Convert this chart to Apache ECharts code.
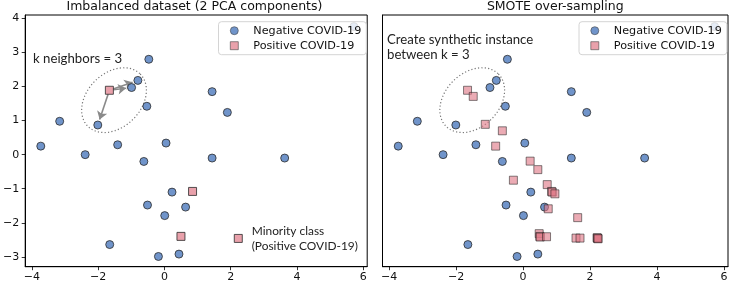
<!DOCTYPE html>
<html><head><meta charset="utf-8">
<script src="https://cdn.jsdelivr.net/npm/echarts@6/dist/echarts.min.js"></script>
<style>html,body{margin:0;padding:0;background:#fff}#c{width:731px;height:283px}</style>
</head><body><div id="c"></div>
<script>
// ---- data ----
const negX = [-3.73, -3.16, -2.01, -0.99, -0.80, -0.47, -0.53, -1.41, 0.05, 1.44, 1.90, -2.39, -0.62, 1.44, 3.63, 0.23, -0.51, 0.64, 0.01, -1.65, -0.18, 0.44, 5.72];
const negY = [0.25, 0.98, 0.87, 1.97, 2.18, 2.80, 1.42, 0.29, 0.34, 1.85, 1.24, 0.00, -0.20, -0.10, -0.10, -1.10, -1.48, -1.54, -1.79, -2.64, -2.99, -2.92, 3.76];
const posX = [-1.66, 0.85, 0.50, 2.23];
const posY = [1.89, -1.08, -2.40, -2.46];
const smoteX = [-1.66, -1.49, -1.13, -0.62, -0.82, 0.21, 0.44, -0.29, 0.72, 0.85, 0.87, 0.95, 0.75, 1.63, 0.48, 0.50, 0.51, 0.70, 1.58, 1.70, 2.23, 2.21, 2.22, 2.24];
const smoteY = [1.89, 1.71, 0.89, 0.70, 0.25, -0.19, -0.44, -0.75, -0.88, -1.08, -1.10, -1.15, -1.59, -1.85, -2.32, -2.40, -2.42, -2.41, -2.45, -2.45, -2.46, -2.44, -2.45, -2.47];
const xTicks = [-4, -2, 0, 2, 4, 6];
const yTicks = [-3, -2, -1, 0, 1, 2, 3, 4];
const titles = ['Imbalanced dataset (2 PCA components)', 'SMOTE over-sampling'];
const seriesNames = ['Negative COVID-19', 'Positive COVID-19'];
const arrowFrom = 0;          // index in posX/posY
const arrowTo = [3, 4, 2];    // indices in negX/negY
const minorityIndex = 3;      // index in posX/posY
const minorityLabel = 'Minority class\n(Positive COVID-19)';
const leftNote = 'k neighbors = 3';
const rightNote = ['Create synthetic instance', 'between k = 3'];
const ellipseCenter = [-1.52, 1.60];

// ---- styles ----
const BLUE = '#7094ca', PINK = '#e9a1ab';
const EDGE = '#2b2b2b';
const XMIN = -4.2, XMAX = 6.12, YMIN = -3.29, YMAX = 4.1;
const GTOP = 15, GH = 251.7, GW = 345.5;
const grids = [{left: 21.7, top: GTOP, width: GW, height: GH}, {left: 382.5, top: GTOP, width: GW, height: GH}];
const tickFmt = v => String(v).replace('-', '\u2212');

function zip(xs, ys) { return xs.map((x, i) => [x, ys[i]]); }

const xAxes = grids.map((g, i) => ({
  type: 'value', gridIndex: i, min: XMIN, max: XMAX,
  axisLine: {show: true, onZero: false, lineStyle: {color: '#000', width: 1}},
  axisTick: {show: true, customValues: xTicks, length: 3.5, lineStyle: {color: '#000', width: 0.8}},
  axisLabel: {show: true, customValues: xTicks, formatter: tickFmt, margin: 5, fontFamily: 'DejaVu Sans', fontSize: 11, color: '#111'},
  splitLine: {show: false}
}));
const yAxes = grids.map((g, i) => ({
  type: 'value', gridIndex: i, min: YMIN, max: YMAX,
  axisLine: {show: true, onZero: false, lineStyle: {color: '#000', width: 1}},
  axisTick: {show: i === 0, customValues: yTicks, length: 3.5, lineStyle: {color: '#000', width: 0.8}},
  axisLabel: {show: i === 0, customValues: yTicks, formatter: tickFmt, margin: 6, fontFamily: 'DejaVu Sans', fontSize: 11, color: '#111'},
  splitLine: {show: false}
}));

// arrows from the positive sample towards its neighbours (shortened at both ends)
const arrowData = arrowTo.map(j => {
  const x1 = posX[arrowFrom], y1 = posY[arrowFrom], x2 = negX[j], y2 = negY[j];
  const dx = x2 - x1, dy = y2 - y1, L = Math.hypot(dx, dy);
  const s0 = 0.12 / L, s1 = 0.17 / L;
  return {coords: [[x1 + dx * s0, y1 + dy * s0], [x2 - dx * s1, y2 - dy * s1]]};
});

const posLeftData = zip(posX, posY).map((p, i) => i === minorityIndex ? {
  value: p,
  label: {show: true, position: 'right', distance: 9, formatter: minorityLabel, fontFamily: 'Lato', fontSize: 11.9, lineHeight: 14.5, color: '#222', align: 'left'}
} : {value: p});

const legendBase = {
  orient: 'vertical', top: 21.7, itemWidth: 8, itemHeight: 8, itemGap: 1,
  padding: [2, 5, 2, 11.5], backgroundColor: 'rgba(255,255,255,0.82)',
  borderColor: '#d4d4d4', borderWidth: 1, borderRadius: 3,
  data: [{name: seriesNames[0], icon: 'circle'}, {name: seriesNames[1], icon: 'rect'}],
  itemStyle: {borderWidth: 0.6, borderColor: '#444'},
  textStyle: {fontFamily: 'DejaVu Sans', fontSize: 11.2, color: '#111', lineHeight: 14, padding: [0, 0, 0, 10]},
  selectedMode: false
};

const chart = echarts.init(document.getElementById('c'), null, {renderer: 'canvas'});
chart.setOption({
  animation: false,
  backgroundColor: '#fff',
  grid: grids.map(g => Object.assign({show: true, borderColor: '#000', borderWidth: 1, containLabel: false}, g)),
  xAxis: xAxes,
  yAxis: yAxes,
  legend: [Object.assign({left: 218.5}, legendBase), Object.assign({left: 579}, legendBase)],
  series: [
    {type: 'lines', coordinateSystem: 'cartesian2d', xAxisIndex: 0, yAxisIndex: 0, z: 1,
     symbol: ['none', 'arrow'], symbolSize: [0, 8], silent: true,
     lineStyle: {color: '#8a8a8a', width: 1.6, opacity: 1}, data: arrowData},
    {name: seriesNames[0], type: 'scatter', xAxisIndex: 0, yAxisIndex: 0, symbol: 'circle', symbolSize: 8, z: 2,
     itemStyle: {color: BLUE, borderColor: EDGE, borderWidth: 0.8, opacity: 1}, data: zip(negX, negY)},
    {name: seriesNames[1], type: 'scatter', xAxisIndex: 0, yAxisIndex: 0, symbol: 'rect', symbolSize: 8, z: 3,
     itemStyle: {color: PINK, borderColor: EDGE, borderWidth: 0.8, opacity: 1}, data: posLeftData},
    {name: seriesNames[0], type: 'scatter', xAxisIndex: 1, yAxisIndex: 1, symbol: 'circle', symbolSize: 8, z: 2,
     itemStyle: {color: BLUE, borderColor: EDGE, borderWidth: 0.8, opacity: 1}, data: zip(negX, negY)},
    {name: seriesNames[1], type: 'scatter', xAxisIndex: 1, yAxisIndex: 1, symbol: 'rect', symbolSize: 8, z: 3,
     itemStyle: {color: 'rgba(222,120,134,0.62)', borderColor: 'rgba(30,30,30,0.6)', borderWidth: 0.9, opacity: 1}, data: zip(smoteX, smoteY)}
  ]
});

// ---- annotations (titles, notes, dotted ellipses) ----
function ellipsePoints(gridIndex) {
  const c = chart.convertToPixel({gridIndex: gridIndex}, ellipseCenter);
  const a = 37, b = 27, th = Math.PI / 4, pts = [];
  for (let k = 0; k < 96; k++) {
    const t = 2 * Math.PI * k / 96;
    const ex = a * Math.cos(t), ey = b * Math.sin(t);
    pts.push([c[0] + ex * Math.cos(th) + ey * Math.sin(th), c[1] - ex * Math.sin(th) + ey * Math.cos(th)]);
  }
  return pts;
}
const titleFont = '12.5px "DejaVu Sans"';
const noteFont = '13.2px Lato';
chart.setOption({
  graphic: [
    {type: 'text', id: 't0', style: {text: titles[0], x: grids[0].left + GW / 2, y: 7, textAlign: 'center', textVerticalAlign: 'middle', font: titleFont, fill: '#111'}},
    {type: 'text', id: 't1', style: {text: titles[1], x: grids[1].left + GW / 2, y: 7, textAlign: 'center', textVerticalAlign: 'middle', font: titleFont, fill: '#111'}},
    {type: 'text', id: 'n0', style: {text: leftNote, x: 33, y: 59, textAlign: 'left', textVerticalAlign: 'middle', font: noteFont, fill: '#222'}},
    {type: 'text', id: 'n1', style: {text: rightNote[0], x: 387, y: 39.3, textAlign: 'left', textVerticalAlign: 'middle', font: noteFont, fill: '#222'}},
    {type: 'text', id: 'n2', style: {text: rightNote[1], x: 387, y: 55, textAlign: 'left', textVerticalAlign: 'middle', font: noteFont, fill: '#222'}},
    {type: 'polygon', id: 'e0', z: 1, shape: {points: ellipsePoints(0)}, style: {fill: 'none', stroke: '#777', lineWidth: 1.2, lineDash: [1.2, 2.2]}},
    {type: 'polygon', id: 'e1', z: 1, shape: {points: ellipsePoints(1)}, style: {fill: 'none', stroke: '#777', lineWidth: 1.2, lineDash: [1.2, 2.2]}}
  ]
});
</script>
</body></html>
